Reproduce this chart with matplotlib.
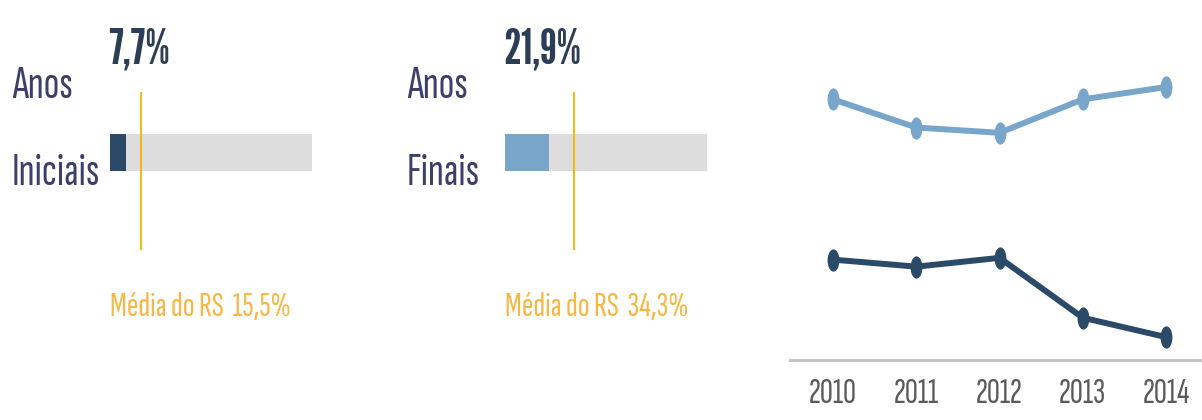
import matplotlib
matplotlib.use("Agg")
import matplotlib.pyplot as plt
import numpy as np
from matplotlib.path import Path

# ---------------- data ----------------
group_line1 = ["Anos", "Anos"]
group_line2 = ["Iniciais", "Finais"]
school_values = [7.7, 21.9]          # % of the school
state_means = [15.5, 34.3]           # Média do RS (%)
years = [2010, 2011, 2012, 2013, 2014]
series_finais = [21.2, 19.6, 19.3, 21.2, 21.9]
series_iniciais = [12.1, 11.7, 12.2, 8.8, 7.7]

# ---------------- style ----------------
W, H = 1202, 420
DARK = "#2b4a68"
LIGHT = "#78a5ca"
GRAY = "#dddddd"
ORANGE = "#f5b400"
ORANGE_TXT = "#f8b744"
LABEL = "#3b3f6c"
NUM = "#2c3e55"
TICK = "#5a5a5a"
BODY_FONT = ["Sofia Sans Extra Condensed", "Pathway Gothic One", "DejaVu Sans"]
BOLD_FONT = ["League Gothic", "DejaVu Sans"]

def fx(px):
    return px / W

def fy(py):
    return 1 - py / H

fig = plt.figure(figsize=(W / 100, H / 100), dpi=100)
fig.patch.set_facecolor("white")

def fmt(v):
    return f"{v:.1f}".replace(".", ",") + "%"

panel_left = [110, 505]
label_left = [12, 407]
bar_colors = [DARK, LIGHT]
bar_w = 202
for i in range(2):
    ax = fig.add_axes([fx(panel_left[i]), fy(250), bar_w / W, 158 / H])
    ax.set_xlim(0, 100)
    ax.set_ylim(0, 1)
    ax.axis("off")
    ax.barh(0.617, 100, height=0.234, color=GRAY, left=0)
    ax.barh(0.617, school_values[i], height=0.234, color=bar_colors[i], left=0)
    ax.axvline(state_means[i], color=ORANGE, lw=1.3, ymin=0, ymax=1)
    fig.text(fx(label_left[i]), fy(98), group_line1[i], family=BODY_FONT,
             fontsize=33, color=LABEL, ha="left", va="baseline")
    fig.text(fx(label_left[i]), fy(185), group_line2[i], family=BODY_FONT,
             fontsize=33, color=LABEL, ha="left", va="baseline")
    fig.text(fx(panel_left[i] - 2), fy(63), fmt(school_values[i]), family=BOLD_FONT,
             fontsize=35, color=NUM, ha="left", va="baseline")
    fig.text(fx(panel_left[i]), fy(316), "Média do RS  " + fmt(state_means[i]),
             family=BODY_FONT, fontsize=25, color=ORANGE_TXT, ha="left", va="baseline")

# ---------------- line chart ----------------
axl = fig.add_axes([fx(790), fy(360), 412 / W, 320 / H])
axl.set_xlim(2009.483, 2014.432)
axl.set_ylim(6.40, 24.57)
circ = Path.unit_circle()
ell = Path(circ.vertices * np.array([0.5, 1.0]), circ.codes)
axl.plot(years, series_finais, color=LIGHT, lw=4.3, marker=ell, markersize=15,
         solid_capstyle="round", zorder=3)
axl.plot(years, series_iniciais, color=DARK, lw=4.3, marker=ell, markersize=15,
         solid_capstyle="round", zorder=3)
for s in ["top", "right", "left"]:
    axl.spines[s].set_visible(False)
axl.spines["bottom"].set_color("#c4c4c4")
axl.spines["bottom"].set_linewidth(2.2)
axl.set_yticks([])
axl.set_xticks(years)
axl.set_xticklabels([str(y) for y in years], family=BODY_FONT, fontsize=26, color=TICK)
axl.tick_params(axis="x", length=0, pad=13)
axl.set_facecolor("none")

fig.savefig("out.png", dpi=100, facecolor="white")
